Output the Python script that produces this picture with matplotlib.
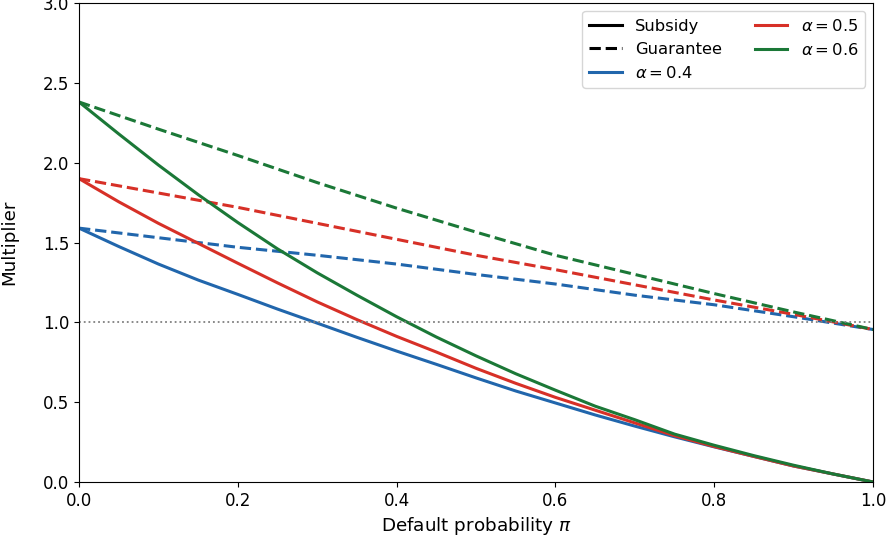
import matplotlib
matplotlib.use("Agg")
import matplotlib.pyplot as plt
from matplotlib.lines import Line2D

# default probability grid
pi_fine = [0.0, 0.05, 0.1, 0.15, 0.2, 0.25, 0.3, 0.35, 0.4, 0.45, 0.5,
           0.55, 0.6, 0.65, 0.7, 0.75, 0.8, 0.85, 0.9, 0.95, 1.0]
pi_coarse = [0.0, 0.1, 0.2, 0.3, 0.4, 0.5, 0.6, 0.7, 0.8, 0.9, 1.0]

# subsidy multipliers (solid), read on pi_fine
subsidy_04 = [1.59, 1.475, 1.365, 1.265, 1.175, 1.083, 0.995, 0.906, 0.82, 0.737, 0.652,
              0.57, 0.495, 0.42, 0.35, 0.283, 0.22, 0.16, 0.10, 0.05, 0.0]
subsidy_05 = [1.90, 1.755, 1.62, 1.495, 1.37, 1.247, 1.128, 1.017, 0.912, 0.814, 0.712,
              0.618, 0.53, 0.45, 0.37, 0.29, 0.222, 0.16, 0.10, 0.05, 0.0]
subsidy_06 = [2.38, 2.18, 1.985, 1.80, 1.625, 1.46, 1.31, 1.17, 1.035, 0.908, 0.79,
              0.678, 0.575, 0.475, 0.39, 0.30, 0.23, 0.165, 0.105, 0.05, 0.0]

# guarantee multipliers (dashed), read on pi_coarse
guarantee_04 = [1.59, 1.53, 1.47, 1.42, 1.365, 1.30, 1.24, 1.17, 1.11, 1.035, 0.955]
guarantee_05 = [1.90, 1.81, 1.72, 1.62, 1.52, 1.42, 1.33, 1.235, 1.14, 1.05, 0.955]
guarantee_06 = [2.38, 2.21, 2.045, 1.875, 1.715, 1.565, 1.42, 1.30, 1.18, 1.065, 0.955]

alphas = ["0.4", "0.5", "0.6"]
colors = ["#2166ac", "#d73027", "#1b7837"]

fig = plt.figure(figsize=(8.89, 5.46), dpi=100)
ax = fig.add_axes([0.0889, 0.1172, 0.8932, 0.8773])

subs = [subsidy_04, subsidy_05, subsidy_06]
guars = [guarantee_04, guarantee_05, guarantee_06]
for s, g, c in zip(subs, guars, colors):
    ax.plot(pi_fine, s, color=c, lw=2.2, ls="-")
    ax.plot(pi_coarse, g, color=c, lw=2.2, ls="--")

ax.axhline(1.0, color="gray", ls=":", lw=1.3)

ax.set_xlim(0, 1)
ax.set_ylim(0, 3)
ax.set_xlabel(r"Default probability $\pi$", fontsize=13.2)
ax.set_ylabel("Multiplier", fontsize=13.2)
ax.yaxis.set_label_coords(-0.076, 0.5)
ax.tick_params(labelsize=12)

handles = [Line2D([], [], color="black", lw=2.2, ls="-"),
           Line2D([], [], color="black", lw=2.2, ls="--")]
labels = ["Subsidy", "Guarantee"]
for a, c in zip(alphas, colors):
    handles.append(Line2D([], [], color=c, lw=2.2))
    labels.append(r"$\alpha = %s$" % a)
ax.legend(handles, labels, ncol=2, loc="upper right", fontsize=11.8)

fig.savefig("out.png", dpi=100)
